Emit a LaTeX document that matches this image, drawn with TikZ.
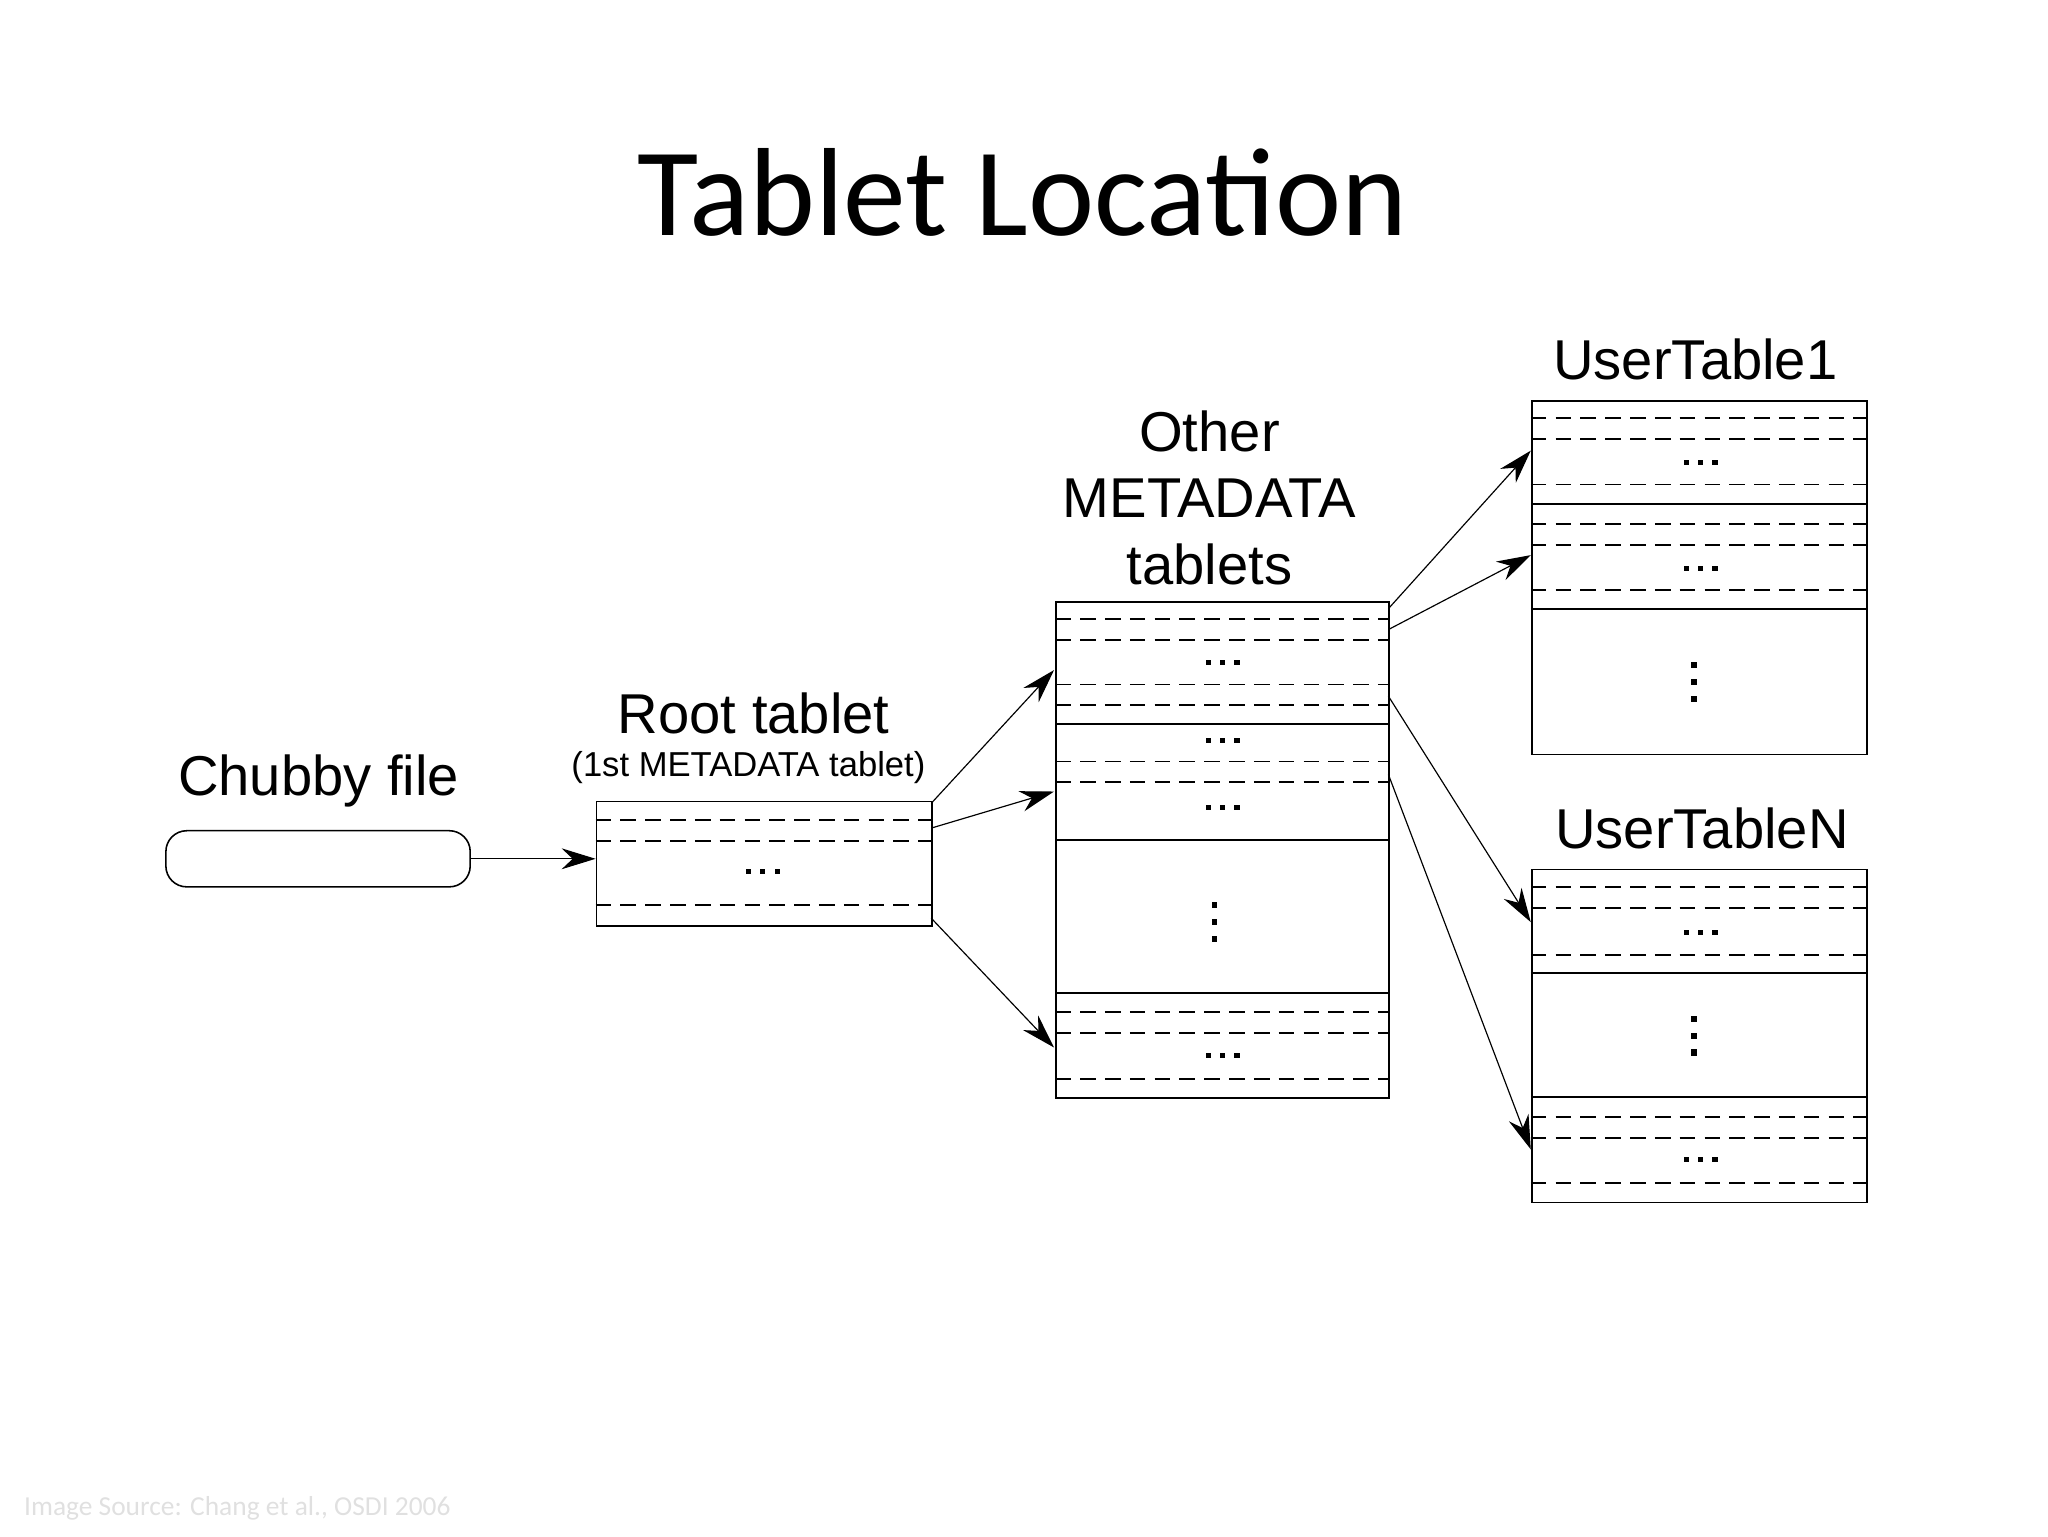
\documentclass[tikz,border=0pt]{standalone}
\usepackage{fontspec}
\setmainfont{Liberation Sans}
\newfontfamily\titlefont{Carlito}
\usetikzlibrary{arrows.meta}
\begin{document}
\begin{tikzpicture}[x=1pt,y=-1pt,
  box/.style={draw,line width=1.4pt,inner sep=0,anchor=north west},
  dl/.style={dash pattern=on 12pt off 7pt,line width=1.4pt},
  sl/.style={line width=1.4pt},
  arr/.style={line width=0.9pt,-{Stealth[length=26pt,width=16pt]}},
  lab/.style={font=\fontsize{43}{46}\selectfont},
  hd/.pic={\foreach \d in {-11,0,11} \fill (\d-2,-2) rectangle (\d+2,2);},
  vdt/.pic={\foreach \d in {-13,0,13} \fill (-2,\d-2.5) rectangle (2,\d+2.5);}]
\useasboundingbox (0,0) rectangle (1568,1176);
\node[font=\titlefont\fontsize{96}{100}\selectfont] (title) at (783,147) {Tablet Location};
% chubby
\node[lab] (lc) at (244,598) {Chubby file};
\node[draw,line width=1.2pt,rounded corners=16pt,minimum width=233pt,minimum height=43pt] (chubby) at (243.5,657.5) {};
% root
\node[lab] (lr) at (577,546) {Root tablet};
\node[font=\fontsize{26.5}{28}\selectfont] (lr2) at (573,588) {(1st METADATA tablet)};
\node[box,minimum width=257pt,minimum height=95pt] (root) at (456,613) {};
\foreach \y in {628,644,693} \draw[dl] (456,\y) -- (713,\y);
\pic at (584,667) {hd};
% meta
\node[lab,align=center,font=\fontsize{43}{51}\selectfont] (lm) at (926,381) {Other\\METADATA\\tablets};
\node[box,minimum width=255pt,minimum height=380pt] (meta) at (808,460) {};
\foreach \y in {554,643,760} \draw[sl] (808,\y) -- (1063,\y);
\foreach \y in {474,490,524,540,583,599,775,791,826} \draw[dl] (808,\y) -- (1063,\y);
\foreach \y in {507,567,618,808} \pic at (936,\y) {hd};
\pic at (930,706) {vdt};
% usertable1
\node[lab] (l1) at (1298,275) {UserTable1};
\node[box,minimum width=257pt,minimum height=271pt] (u1) at (1172,306) {};
\foreach \y in {386,466} \draw[sl] (1172,\y) -- (1429,\y);
\foreach \y in {320,336,371,401,417,452} \draw[dl] (1172,\y) -- (1429,\y);
\foreach \y in {354,435} \pic at (1302,\y) {hd};
\pic at (1297,522) {vdt};
% usertableN
\node[lab] (ln) at (1303,634) {UserTableN};
\node[box,minimum width=257pt,minimum height=255pt] (un) at (1172,665) {};
\foreach \y in {745,840} \draw[sl] (1172,\y) -- (1429,\y);
\foreach \y in {679,695,731,855,871,906} \draw[dl] (1172,\y) -- (1429,\y);
\foreach \y in {714,888} \pic at (1302,\y) {hd};
\pic at (1297,793) {vdt};
% arrow coordinates
\coordinate (r1) at (713,615); \coordinate (r2) at (713,634); \coordinate (r3) at (713,703);
\coordinate (m1) at (807,513); \coordinate (m2) at (807,606); \coordinate (m3) at (807,802);
\coordinate (ma) at (1063,466); \coordinate (mb) at (1063,482); \coordinate (mc) at (1063,533); \coordinate (md) at (1063,593);
\coordinate (ua) at (1172,345); \coordinate (ub) at (1172,425); \coordinate (uc) at (1172,706); \coordinate (ud) at (1172,880);
\draw[arr] (chubby.east) -- (root.west |- chubby.east);
\draw[arr] (r1) -- (m1);
\draw[arr] (r2) -- (m2);
\draw[arr] (r3) -- (m3);
\draw[arr] (ma) -- (ua);
\draw[arr] (mb) -- (ub);
\draw[arr] (mc) -- (uc);
\draw[arr] (md) -- (ud);
\node[anchor=west,text=black!12,font=\titlefont\fontsize{21}{22}\selectfont] (src) at (15,1155) {Image Source: Chang et al., OSDI 2006};
\end{tikzpicture}
\end{document}
